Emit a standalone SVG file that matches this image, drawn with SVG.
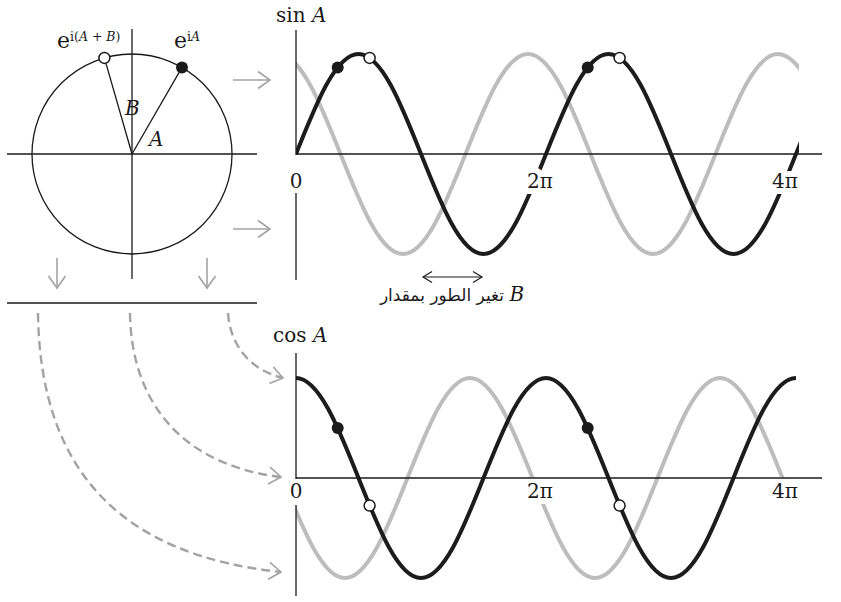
<svg xmlns="http://www.w3.org/2000/svg" width="841" height="602" viewBox="0 0 841 602">
<style>
.ax{stroke:#1a1a1a;stroke-width:1.3;fill:none}
.blk{stroke:#1c1c1c;stroke-width:4;fill:none}
.gry{stroke:#bdbdbd;stroke-width:4;fill:none}
.arr{stroke:#a3a3a3;stroke-width:1.6;fill:none}
.dash{stroke:#a3a3a3;stroke-width:2.4;fill:none;stroke-dasharray:9 5}
.t{font-family:"DejaVu Serif","Liberation Serif",serif;font-size:20px;fill:#1a1a1a}
.it{font-style:italic}
.halo{stroke:#fff;stroke-width:12;stroke-linejoin:round;paint-order:stroke}
.dotf{fill:#1a1a1a}
.doto{fill:#fff;stroke:#1a1a1a;stroke-width:1.5}
</style>
<defs>
<marker id="hg" viewBox="-15 -11 18 22" refX="0" refY="0" markerWidth="18" markerHeight="22" markerUnits="userSpaceOnUse" orient="auto">
<path d="M-12,-8.5 L0,0 L-12,8.5" fill="none" stroke="#a3a3a3" stroke-width="1.6" stroke-dasharray="none"/>
</marker>
<marker id="hb" viewBox="-11 -7 13 14" refX="0" refY="0" markerWidth="13" markerHeight="14" markerUnits="userSpaceOnUse" orient="auto-start-reverse">
<path d="M-9,-5.5 L0,0 L-9,5.5" fill="none" stroke="#1a1a1a" stroke-width="1.2"/>
</marker>
<clipPath id="cs"><rect x="296" y="0" width="503" height="300"/></clipPath>
<clipPath id="ccb"><rect x="296" y="320" width="501" height="282"/></clipPath>
<clipPath id="ccg"><rect x="296" y="320" width="494" height="282"/></clipPath>
</defs>

<g id="unit-circle">
<circle cx="132" cy="154" r="100" class="ax"/>
<line x1="7" y1="154" x2="257" y2="154" class="ax"/>
<line x1="132" y1="29" x2="132" y2="279" class="ax"/>
<line x1="132" y1="154" x2="182" y2="67.4" class="ax"/>
<line x1="132" y1="154" x2="104.4" y2="57.9" class="ax"/>
<circle cx="182" cy="67.4" r="6" class="dotf"/>
<circle cx="104.4" cy="57.9" r="5.5" class="doto"/>
<text class="t" x="57" y="48" style="font-size:22px">e<tspan font-size="12.5" dy="-7">i(<tspan class="it">A</tspan> + <tspan class="it">B</tspan>)</tspan></text>
<text class="t" x="174" y="48" style="font-size:22px">e<tspan font-size="12.5" dy="-7">i<tspan class="it">A</tspan></tspan></text>
<text class="t it" x="125" y="115">B</text>
<text class="t it" x="149" y="146">A</text>
</g>

<g id="projection-line">
<line x1="7" y1="303" x2="257" y2="303" class="ax"/>
</g>

<g id="sin-graph">
<path class="gry" clip-path="url(#cs)" d="M278,54 C300.62,54 320.12,102.77 340.5,154 S380.38,254 403,254 S445.12,205.23 465.5,154 S505.38,54 528,54 S570.12,102.77 590.5,154 S630.38,254 653,254 S695.12,205.23 715.5,154 S755.38,54 778,54 S820.12,102.77 840.5,154"/>
<path class="blk" clip-path="url(#cs)" d="M296,154 C316.38,102.77 335.88,54 358.5,54 S400.62,102.77 421,154 S460.88,254 483.5,254 S525.62,205.23 546,154 S585.88,54 608.5,54 S650.62,102.77 671,154 S710.88,254 733.5,254 S775.62,205.23 796,154 S835.88,54 858.5,54"/>
<text class="t halo" x="296" y="188" text-anchor="middle">0</text>
<text class="t halo" x="540" y="188" text-anchor="middle">2π</text>
<text class="t halo" x="785" y="188" text-anchor="middle">4π</text>
<line x1="296" y1="154" x2="822" y2="154" class="ax"/>
<line x1="296" y1="30" x2="296" y2="155" class="ax"/>
<line x1="296" y1="193" x2="296" y2="280" class="ax"/>
<text class="t" x="276" y="22">sin <tspan class="it">A</tspan></text>
<circle cx="337.7" cy="67.4" r="6" class="dotf"/>
<circle cx="369.6" cy="57.9" r="5.5" class="doto"/>
<circle cx="587.7" cy="67.4" r="6" class="dotf"/>
<circle cx="619.6" cy="57.9" r="5.5" class="doto"/>
</g>

<g id="cos-graph">
<path class="gry" clip-path="url(#ccg)" d="M220,378 C242.62,378 262.12,426.77 282.5,478 S322.38,578 345,578 S387.12,529.23 407.5,478 S447.38,378 470,378 S512.12,426.77 532.5,478 S572.38,578 595,578 S637.12,529.23 657.5,478 S697.38,378 720,378 S762.12,426.77 782.5,478 S822.38,578 845,578"/>
<path class="blk" clip-path="url(#ccb)" d="M296,378 C318.62,378 338.12,426.77 358.5,478 S398.38,578 421,578 S463.12,529.23 483.5,478 S523.38,378 546,378 S588.12,426.77 608.5,478 S648.38,578 671,578 S713.12,529.23 733.5,478 S773.38,378 796,378"/>
<text class="t halo" x="296" y="498" text-anchor="middle">0</text>
<text class="t halo" x="540" y="498" text-anchor="middle">2π</text>
<text class="t halo" x="785" y="498" text-anchor="middle">4π</text>
<line x1="296" y1="478" x2="822" y2="478" class="ax"/>
<line x1="296" y1="353" x2="296" y2="479" class="ax"/>
<line x1="296" y1="505" x2="296" y2="596" class="ax"/>
<text class="t" x="273" y="342">cos <tspan class="it">A</tspan></text>
<circle cx="337.7" cy="428" r="6" class="dotf"/>
<circle cx="369.6" cy="505.6" r="5.5" class="doto"/>
<circle cx="587.7" cy="428" r="6" class="dotf"/>
<circle cx="619.6" cy="505.6" r="5.5" class="doto"/>
</g>

<g id="phase-label">
<text x="452" y="301" text-anchor="middle" fill="#1a1a1a" style="font-family:'DejaVu Sans','Noto Sans',sans-serif;font-size:17px">تغير الطور بمقدار <tspan style="font-family:'DejaVu Serif',serif;font-style:italic;font-size:20px">B</tspan></text>
</g>

<g id="connectors">
<line x1="233" y1="80" x2="270" y2="80" class="arr" marker-end="url(#hg)"/>
<line x1="233" y1="229" x2="270" y2="229" class="arr" marker-end="url(#hg)"/>
<line x1="57" y1="258" x2="57" y2="288" class="arr" marker-end="url(#hg)"/>
<line x1="207" y1="258" x2="207" y2="288" class="arr" marker-end="url(#hg)"/>
<line x1="423" y1="277" x2="482" y2="277" stroke="#1a1a1a" stroke-width="1.2" marker-start="url(#hb)" marker-end="url(#hb)"/>
<path class="dash" d="M228,313 C230,345 250,370 283,378" marker-end="url(#hg)"/>
<path class="dash" d="M130,313 C131,400 180,465 281,477" marker-end="url(#hg)"/>
<path class="dash" d="M38,313 C40,470 120,555 281,572" marker-end="url(#hg)"/>
</g>
</svg>
